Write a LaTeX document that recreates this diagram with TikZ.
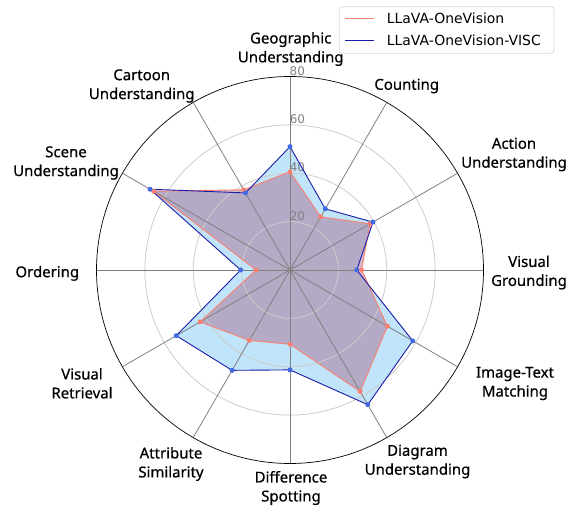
\documentclass[tikz,border=0pt]{standalone}
\usepackage{fontspec}
\setmainfont{DejaVu Sans}
\newfontfamily\labelfont[FakeBold=0.6]{Noto Sans}
\definecolor{onevis}{RGB}{250,128,114}
\definecolor{visc}{RGB}{28,28,168}
\definecolor{viscdot}{RGB}{65,105,225}
\definecolor{viscfill}{RGB}{192,228,249}
\definecolor{overlapfill}{RGB}{171,114,148}
\definecolor{spokegray}{RGB}{128,128,128}
\definecolor{ringgray}{RGB}{204,204,204}
\definecolor{legendgray}{RGB}{217,217,217}
\tikzset{axislabel/.style = {font=\labelfont\fontsize{15}{19}\selectfont, align=center, inner sep=0pt}}
\tikzset{ticklabel/.style = {font=\fontsize{12}{14}\selectfont, text=spokegray, inner sep=0pt}}
\tikzset{dotr/.style = {circle, fill=onevis, inner sep=0pt, minimum size=5bp}}
\tikzset{dotb/.style = {circle, fill=viscdot, inner sep=0pt, minimum size=5bp}}
\tikzset{legendtext/.style = {font=\fontsize{14}{16}\selectfont, anchor=west, inner sep=0pt}}

\begin{document}
\begin{tikzpicture}[x=1bp,y=1bp]
          \useasboundingbox (-290,-239) rectangle (286,270);

          % scores, one per axis, clockwise from the top
          \foreach \v [count=\i] in {51,29.2,39.6,27.6,58.6,64.3,41.3,47.9,54.3,20.4,66.8,36.8}
            \coordinate (b\i) at ({90-30*(\i-1)}:{\v*2.41875});
          \foreach \v [count=\i] in {40.6,25.4,38.2,29.6,46.5,58,30.7,33.6,42.9,14,65.1,38.3}
            \coordinate (r\i) at ({90-30*(\i-1)}:{\v*2.41875});

          \fill[viscfill] (b1) \foreach \i in {2,...,12} {-- (b\i)} -- cycle;
          \fill[overlapfill, fill opacity=0.5] (r1) \foreach \i in {2,...,12} {-- (r\i)} -- cycle;

          % grid
          \foreach \r in {48.375,96.75,145.125}
            \draw[ringgray, line width=0.8bp] (0,0) circle (\r);
          \foreach \a in {0,30,...,330}
            \draw[spokegray, line width=0.8bp] (0,0) -- (\a:193.5);
          \draw[black, line width=0.7bp] (0,0) circle (193.5);

          \node[ticklabel] (t20) at (7.5,54.3) {20};
          \node[ticklabel] (t40) at (7.5,102.7) {40};
          \node[ticklabel] (t60) at (7.5,151) {60};
          \node[ticklabel] (t80) at (7.3,199.3) {80};

          \draw[onevis, line width=0.9bp] (r1) \foreach \i in {2,...,12} {-- (r\i)} -- cycle;
          \draw[visc, line width=0.9bp] (b1) \foreach \i in {2,...,12} {-- (b\i)} -- cycle;
          \foreach \i in {1,...,12} \node[dotr] at (r\i) {};
          \foreach \i in {1,...,12} \node[dotb] at (b\i) {};

          \node[axislabel] (geo) at (0.7,221) {Geographic\\Understanding};
          \node[axislabel] (count) at (116.7,184) {Counting};
          \node[axislabel] (action) at (224,115.5) {Action\\Understanding};
          \node[axislabel] (ground) at (239,-2.5) {Visual\\Grounding};
          \node[axislabel] (match) at (225,-113.5) {Image-Text\\Matching};
          \node[axislabel] (diagram) at (127.5,-191.5) {Diagram\\Understanding};
          \node[axislabel] (diff) at (1,-218) {Difference\\Spotting};
          \node[axislabel] (attr) at (-119,-194) {Attribute\\Similarity};
          \node[axislabel] (retr) at (-208,-113.3) {Visual\\Retrieval};
          \node[axislabel] (order) at (-242.7,-3.3) {Ordering};
          \node[axislabel] (scene) at (-224,107) {Scene\\Understanding};
          \node[axislabel] (cartoon) at (-148.3,184) {Cartoon\\Understanding};

          % legend
          \draw[legendgray, fill=white, fill opacity=0.8, rounded corners=3bp, line width=0.8bp]
            (49.3,216.7) rectangle (264,263.3);
          \coordinate (la) at (55,251.7);
          \coordinate (lb) at (55,229.3);
          \draw[onevis, line width=1bp] (la) -- ++(29,0) coordinate (la2);
          \draw[visc, line width=1bp] (lb) -- ++(29,0) coordinate (lb2);
          \node[legendtext] (lega) at (96.7,251.7) {LLaVA-OneVision};
          \node[legendtext] (legb) at (96.7,229.3) {LLaVA-OneVision-VISC};
        \end{tikzpicture}
\end{document}
